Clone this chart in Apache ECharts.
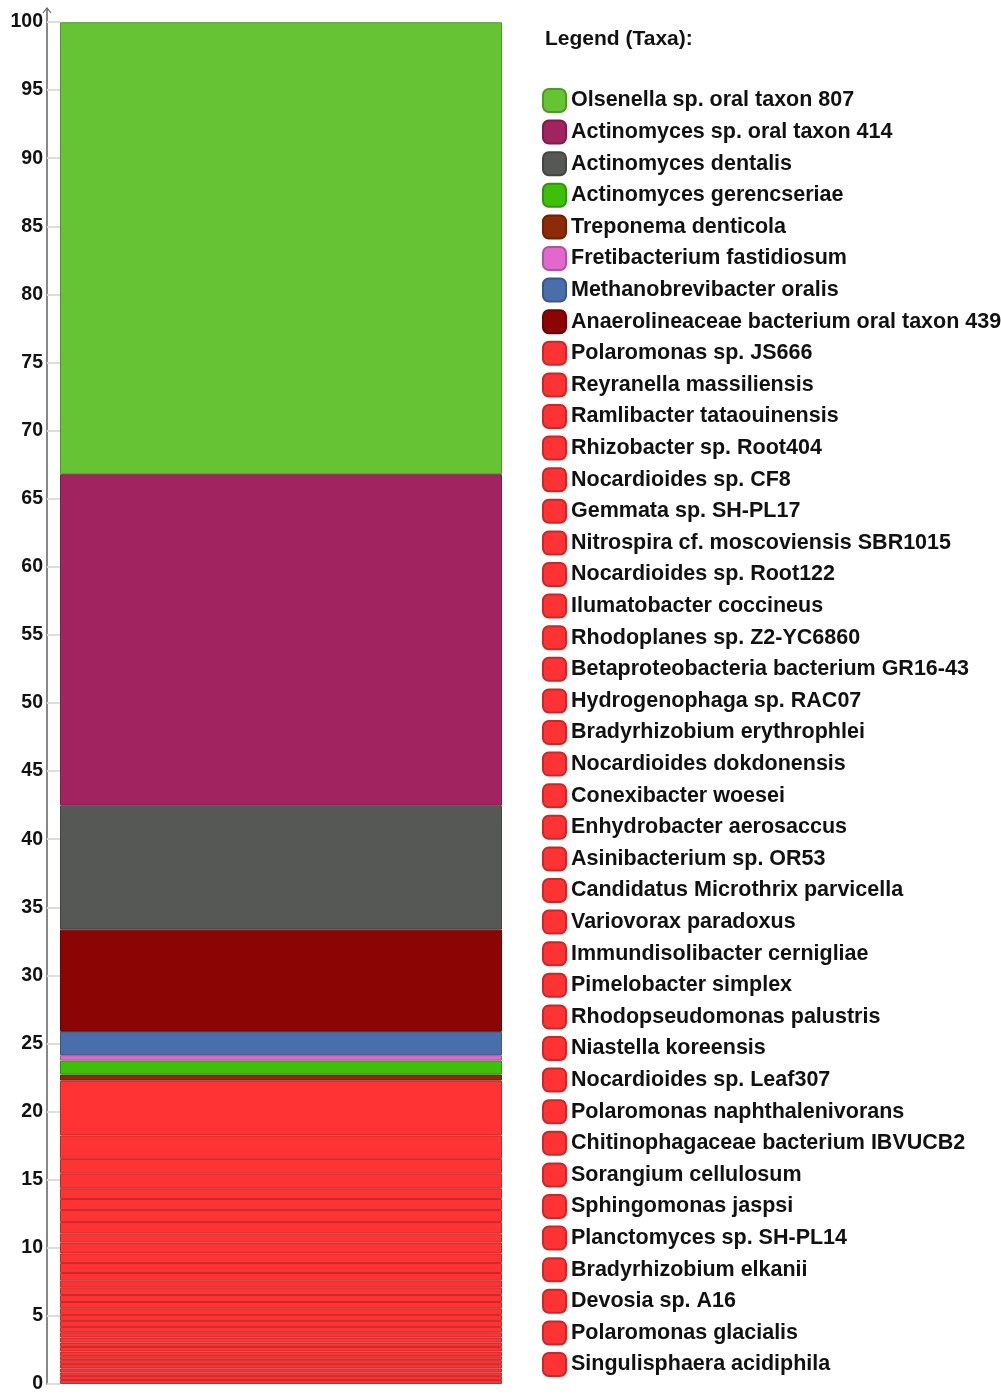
<!DOCTYPE html>
<html>
<head>
<meta charset="utf-8">
<script src="https://cdn.jsdelivr.net/npm/echarts@6/dist/echarts.min.js"></script>
<style>
  html, body { margin: 0; padding: 0; background: #fff; }
  #main { width: 1001px; height: 1394px; }
</style>
</head>
<body>
<div id="main"></div>
<script>
// taxa in legend order, with their share (%) of the single sample bar
var taxa = [
    'Olsenella sp. oral taxon 807',
    'Actinomyces sp. oral taxon 414',
    'Actinomyces dentalis',
    'Actinomyces gerencseriae',
    'Treponema denticola',
    'Fretibacterium fastidiosum',
    'Methanobrevibacter oralis',
    'Anaerolineaceae bacterium oral taxon 439',
    'Polaromonas sp. JS666',
    'Reyranella massiliensis',
    'Ramlibacter tataouinensis',
    'Rhizobacter sp. Root404',
    'Nocardioides sp. CF8',
    'Gemmata sp. SH-PL17',
    'Nitrospira cf. moscoviensis SBR1015',
    'Nocardioides sp. Root122',
    'Ilumatobacter coccineus',
    'Rhodoplanes sp. Z2-YC6860',
    'Betaproteobacteria bacterium GR16-43',
    'Hydrogenophaga sp. RAC07',
    'Bradyrhizobium erythrophlei',
    'Nocardioides dokdonensis',
    'Conexibacter woesei',
    'Enhydrobacter aerosaccus',
    'Asinibacterium sp. OR53',
    'Candidatus Microthrix parvicella',
    'Variovorax paradoxus',
    'Immundisolibacter cernigliae',
    'Pimelobacter simplex',
    'Rhodopseudomonas palustris',
    'Niastella koreensis',
    'Nocardioides sp. Leaf307',
    'Polaromonas naphthalenivorans',
    'Chitinophagaceae bacterium IBVUCB2',
    'Sorangium cellulosum',
    'Sphingomonas jaspsi',
    'Planctomyces sp. SH-PL14',
    'Bradyrhizobium elkanii',
    'Devosia sp. A16',
    'Polaromonas glacialis',
    'Singulisphaera acidiphila'
];
var shares = [
    33.18, 24.34, 9.10, 1.03, 0.44, 0.39, 1.72, 7.50,
    4.03, 1.72, 1.06, 1.10, 0.79, 0.81, 0.88, 0.85, 0.66, 0.79,
    0.71, 0.73, 0.54, 0.54, 0.54, 0.51, 0.46, 0.49, 0.44, 0.44,
    0.39, 0.39, 0.37, 0.32, 0.34, 0.34, 0.29, 0.29, 0.32, 0.29,
    0.27, 0.29, 0.29
];
var topColors = ['#66c434', '#a12461', '#555855', '#3ec00a', '#8b2b08', '#e06acc', '#4a6eaa', '#8b0505'];
var otherColor = '#ff3333';

// order of the segments in the bar, from the top down
var stackTopDown = [
    'Olsenella sp. oral taxon 807',
    'Actinomyces sp. oral taxon 414',
    'Actinomyces dentalis',
    'Anaerolineaceae bacterium oral taxon 439',
    'Methanobrevibacter oralis',
    'Fretibacterium fastidiosum',
    'Actinomyces gerencseriae',
    'Treponema denticola'
].concat(taxa.slice(8));

var yTicks = { min: 0, max: 100, interval: 5 };

var font = 'Liberation Sans, Arial, sans-serif';
var myChart = echarts.init(document.getElementById('main'));

// darker shade for the segment outlines
function darker(hex, f) {
    var n = parseInt(hex.slice(1), 16);
    var r = Math.round(((n >> 16) & 255) * f);
    var g = Math.round(((n >> 8) & 255) * f);
    var b = Math.round((n & 255) * f);
    return 'rgb(' + r + ',' + g + ',' + b + ')';
}

var series = [];
// echarts stacks the first series at the bottom
for (var i = stackTopDown.length - 1; i >= 0; i--) {
    var idx = taxa.indexOf(stackTopDown[i]);
    var c = idx < topColors.length ? topColors[idx] : otherColor;
    series.push({
        name: taxa[idx],
        type: 'bar',
        stack: 'sample',
        barCategoryGap: '0%',
        itemStyle: {
            color: c,
            borderColor: darker(c, 0.78),
            borderWidth: 1
        },
        emphasis: { disabled: true },
        data: [shares[idx]]
    });
}

var option = {
    animation: false,
    backgroundColor: '#fff',
    title: {
        text: 'Legend (Taxa):',
        left: 545,
        top: 29,
        padding: 0,
        textStyle: { fontFamily: font, fontSize: 21, fontWeight: 'bold', color: '#111' }
    },
    legend: {
        data: taxa,
        orient: 'vertical',
        left: 542,
        top: 88,
        padding: 0,
        itemWidth: 23,
        itemHeight: 23,
        itemGap: 6.6,
        icon: 'roundRect',
        selectedMode: false,
        textStyle: { fontFamily: font, fontSize: 21.5, fontWeight: 'bold', color: '#111', lineHeight: 23 }
    },
    grid: { left: 60, right: 499, top: 22, bottom: 9 },
    xAxis: {
        type: 'category',
        data: [''],
        show: false
    },
    yAxis: {
        type: 'value',
        min: yTicks.min,
        max: yTicks.max,
        interval: yTicks.interval,
        offset: 13,
        axisLine: { show: true, lineStyle: { color: '#888', width: 2 } },
        axisTick: { show: true, inside: true, length: 13, lineStyle: { color: '#ddd', width: 2 } },
        splitLine: { show: false },
        axisLabel: {
            margin: 4,
            fontFamily: font,
            fontSize: 19.5,
            fontWeight: 'bold',
            color: '#111'
        }
    },
    graphic: [
        { type: 'line', shape: { x1: 47, y1: 22, x2: 47, y2: 8 }, style: { stroke: '#888', lineWidth: 2 } },
        { type: 'polyline', shape: { points: [[43, 13], [47, 8], [51, 13]] }, style: { stroke: '#666', lineWidth: 1.2, fill: null } }
    ],
    series: series
};
myChart.setOption(option);
</script>
</body>
</html>
